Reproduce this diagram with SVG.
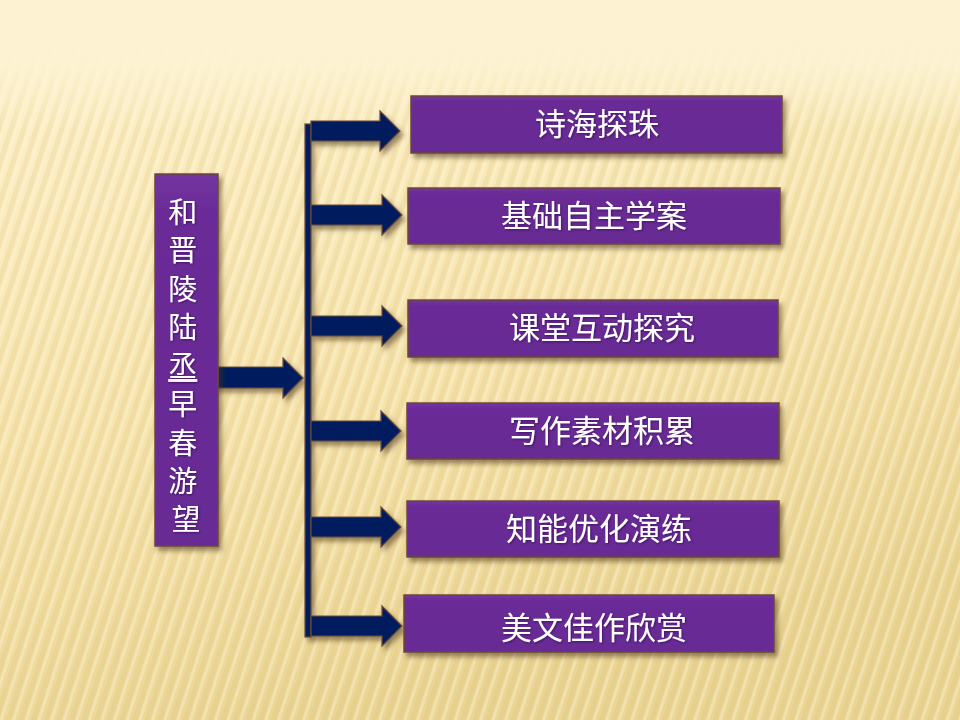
<svg xmlns="http://www.w3.org/2000/svg" width="960" height="720" viewBox="0 0 960 720">
<defs>
<linearGradient id="bg" x1="0" y1="0" x2="0.3" y2="1">
<stop offset="0" stop-color="#fdf3d2"/>
<stop offset="0.15" stop-color="#fcefc6"/>
<stop offset="0.6" stop-color="#f6e3ac"/>
<stop offset="1" stop-color="#ebd595"/>
</linearGradient>
<linearGradient id="topfade" x1="0" y1="0" x2="0" y2="1">
<stop offset="0" stop-color="#fdf3d3" stop-opacity="1"/>
<stop offset="0.5" stop-color="#fdf3d3" stop-opacity="0.9"/>
<stop offset="1" stop-color="#fdf3d3" stop-opacity="0"/>
</linearGradient>
<pattern id="stripes" width="12" height="12" patternUnits="userSpaceOnUse" patternTransform="rotate(18)">
<rect width="5" height="12" fill="#d9bd72" opacity="0.2"/>
<rect x="6" width="3" height="12" fill="#fff6da" opacity="0.35"/>
</pattern>
<linearGradient id="purp" x1="0" y1="0" x2="0" y2="1">
<stop offset="0" stop-color="#7333a0"/>
<stop offset="0.1" stop-color="#6a2c97"/>
<stop offset="1" stop-color="#672b93"/>
</linearGradient>
<filter id="sh" x="-10%" y="-20%" width="130%" height="160%">
<feGaussianBlur in="SourceAlpha" stdDeviation="2.5"/>
<feOffset dx="3" dy="4" result="b"/>
<feFlood flood-color="#4a3414" flood-opacity="0.55"/>
<feComposite in2="b" operator="in"/>
<feMerge><feMergeNode/><feMergeNode in="SourceGraphic"/></feMerge>
</filter>
<filter id="tsh" x="-10%" y="-10%" width="130%" height="130%">
<feGaussianBlur in="SourceAlpha" stdDeviation="0.8"/>
<feOffset dx="1" dy="1" result="b"/>
<feFlood flood-color="#2a0a40" flood-opacity="0.6"/>
<feComposite in2="b" operator="in"/>
<feMerge><feMergeNode/><feMergeNode in="SourceGraphic"/></feMerge>
</filter>
</defs>
<style>
.box{fill:url(#purp);stroke:#6b4a3a;stroke-width:1.5}
.arr{fill:#041e5e;stroke:#6b4a3a;stroke-width:1.2}
.lbl{font-family:"Noto Sans CJK SC","Noto Sans",sans-serif;font-size:31px;fill:#ffffff;text-anchor:middle;dominant-baseline:central}
.vlbl{font-family:"Noto Sans CJK SC","Noto Sans",sans-serif;font-size:29px;fill:#ffffff;text-anchor:middle}
</style>
<rect width="960" height="720" fill="url(#bg)"/>
<rect width="960" height="720" fill="url(#stripes)"/>
<rect width="960" height="130" fill="url(#topfade)"/>

<g id="connectors" filter="url(#sh)">
<rect class="arr" x="305" y="124" width="6" height="513"/>
<polygon class="arr" points="214,367 283,367 283,358 303,378 283,398 283,388 214,388"/>
<polygon class="arr" points="311,121 380,121 380,111 400,131 380,151 380,141 311,141"/>
<polygon class="arr" points="311,205 382,205 382,195 402,215 382,235 382,225 311,225"/>
<polygon class="arr" points="311,316 382,316 382,306 402,326 382,346 382,336 311,336"/>
<polygon class="arr" points="311,421 381,421 381,411 401,431 381,451 381,441 311,441"/>
<polygon class="arr" points="311,517 381,517 381,507 401,527 381,547 381,537 311,537"/>
<polygon class="arr" points="311,616 382,616 382,606 402,626 382,646 382,636 311,636"/>
</g>

<g id="main">
<rect class="box" x="155" y="174" width="63" height="372" filter="url(#sh)"/>
<text class="vlbl" x="186" y="0" filter="url(#tsh)">
<tspan x="186" y="223">和</tspan>
<tspan x="186" y="261">晋</tspan>
<tspan x="186" y="300">陵</tspan>
<tspan x="186" y="338">陆</tspan>
<tspan x="186" y="377" text-decoration="underline">丞</tspan>
<tspan x="186" y="415">早</tspan>
<tspan x="186" y="454">春</tspan>
<tspan x="186" y="492">游</tspan>
<tspan x="186" y="530">望</tspan>
</text>
</g>

<g id="n1">
<rect class="box" x="411" y="96" width="371" height="57" filter="url(#sh)"/>
<text class="lbl" x="597" y="121" filter="url(#tsh)">诗海探珠</text>
</g>
<g id="n2">
<rect class="box" x="408" y="188" width="372" height="56" filter="url(#sh)"/>
<text class="lbl" x="594" y="213" filter="url(#tsh)">基础自主学案</text>
</g>
<g id="n3">
<rect class="box" x="408" y="300" width="370" height="57" filter="url(#sh)"/>
<text class="lbl" x="602" y="325" filter="url(#tsh)">课堂互动探究</text>
</g>
<g id="n4">
<rect class="box" x="407" y="403" width="372" height="56" filter="url(#sh)"/>
<text class="lbl" x="602" y="428" filter="url(#tsh)">写作素材积累</text>
</g>
<g id="n5">
<rect class="box" x="407" y="501" width="372" height="56" filter="url(#sh)"/>
<text class="lbl" x="599" y="526" filter="url(#tsh)">知能优化演练</text>
</g>
<g id="n6">
<rect class="box" x="404" y="595" width="370" height="57" filter="url(#sh)"/>
<text class="lbl" x="594" y="625" filter="url(#tsh)">美文佳作欣赏</text>
</g>
</svg>
